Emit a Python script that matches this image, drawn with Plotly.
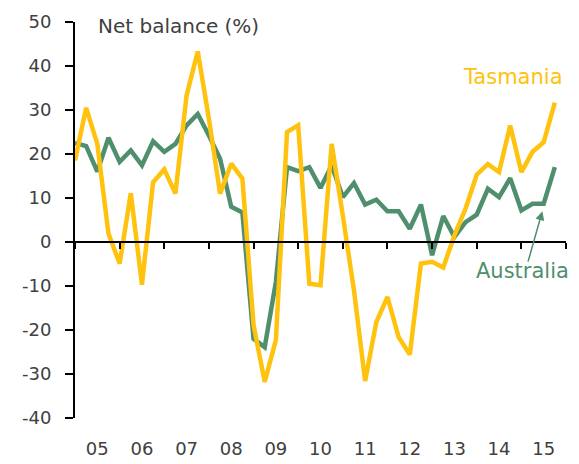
import plotly.graph_objects as go

# Quarterly, 2005 Q1 .. 2015 Q4
years = list(range(2005, 2016))
year_labels = ["05", "06", "07", "08", "09", "10", "11", "12", "13", "14", "15"]
y_ticks = [-40, -30, -20, -10, 0, 10, 20, 30, 40, 50]
y_tick_labels = ["-40", "-30", "-20", "-10", "0", "10", "20", "30", "40", "50"]
quarter_x = [2005 + i * 0.25 for i in range(44)]

tasmania = [18.5, 30.5, 22.3, 1.9, -4.9, 11.1, -9.7, 13.6, 16.5, 11.0, 33.3, 43.3,
            28.0, 11.0, 17.8, 14.4, -18.9, -31.8, -22.3, 25.0, 26.5, -9.5, -9.8, 22.3,
            6.0, -11.0, -31.6, -18.2, -12.5, -21.6, -25.6, -4.9, -4.5, -5.8, 1.5, 7.6,
            15.3, 17.7, 15.9, 26.5, 15.9, 20.5, 22.7, 31.7]
australia = [22.5, 21.8, 16.0, 23.7, 18.2, 20.8, 17.4, 22.9, 20.5, 22.3, 26.5, 29.1,
             24.2, 18.9, 8.0, 6.7, -22.0, -23.9, -9.1, 17.0, 16.1, 17.0, 12.3, 17.4,
             10.2, 13.4, 8.5, 9.6, 7.0, 7.0, 3.0, 8.5, -3.0, 5.9, 1.1, 4.5,
             6.2, 12.1, 10.2, 14.5, 7.2, 8.7, 8.7, 17.0]

GREEN = "#4F8F6E"
GOLD = "#FFC20E"
TEXT = "#404040"
FONT = "DejaVu Sans"

fig = go.Figure()
fig.add_trace(go.Scatter(x=quarter_x, y=australia, mode="lines",
                         line=dict(color=GREEN, width=4.5), showlegend=False))
fig.add_trace(go.Scatter(x=quarter_x, y=tasmania, mode="lines",
                         line=dict(color=GOLD, width=4.5), showlegend=False))
# invisible trace to activate the label axis
fig.add_trace(go.Scatter(x=[2005, 2016], y=[0, 0], xaxis="x2", mode="lines",
                         line=dict(width=0), hoverinfo="skip", showlegend=False))

fig.update_layout(
    width=579, height=464,
    margin=dict(l=75, r=13, t=22, b=46),
    plot_bgcolor="white", paper_bgcolor="white",
    font=dict(family=FONT, size=18, color=TEXT),
    xaxis=dict(range=[2005, 2016], tickvals=years + [2016], showticklabels=False,
               ticks="outside", ticklen=6, tickwidth=2, tickcolor="black",
               showline=True, linecolor="black", linewidth=2,
               showgrid=False, zeroline=False, automargin=False,
               anchor="free", position=40 / 90),
    xaxis2=dict(range=[2005, 2016], overlaying="x", anchor="y", side="bottom",
                tickvals=[y + 0.5 for y in years], ticktext=year_labels,
                ticks="", showline=False, showgrid=False, zeroline=False,
                ticklabelstandoff=18, automargin=False,
                tickfont=dict(family=FONT, size=18, color=TEXT)),
    yaxis=dict(range=[-40, 50], tickvals=y_ticks, ticktext=y_tick_labels,
               ticks="outside", ticklen=8, tickwidth=2,
               tickcolor="black", showline=True, linecolor="black", linewidth=2,
               showgrid=False, zeroline=False, automargin=False,
               ticklabelstandoff=10,
               tickfont=dict(family=FONT, size=18, color=TEXT)),
)

fig.add_annotation(text="Net balance (%)", xref="paper", yref="paper",
                   x=0.043, y=0.99, xanchor="left", yanchor="middle",
                   showarrow=False, font=dict(family=FONT, size=20, color=TEXT))
fig.add_annotation(text="Tasmania", x=2014.82, y=37.6, xanchor="center",
                   yanchor="middle", showarrow=False,
                   font=dict(family=FONT, size=21, color=GOLD))
fig.add_annotation(text="Australia", x=2015.02, y=-6.5, xanchor="center",
                   yanchor="middle", showarrow=False,
                   font=dict(family=FONT, size=21, color=GREEN))
fig.add_annotation(x=2015.47, y=7.0, ax=2015.14, ay=-4.8, axref="x", ayref="y",
                   text="", showarrow=True, arrowhead=2, arrowsize=1.2,
                   arrowwidth=1.5, arrowcolor=GREEN)

fig.write_html("out.html", config={"displayModeBar": False},
               post_script="document.body.style.margin='0';"
                           "document.body.style.overflow='hidden';")
